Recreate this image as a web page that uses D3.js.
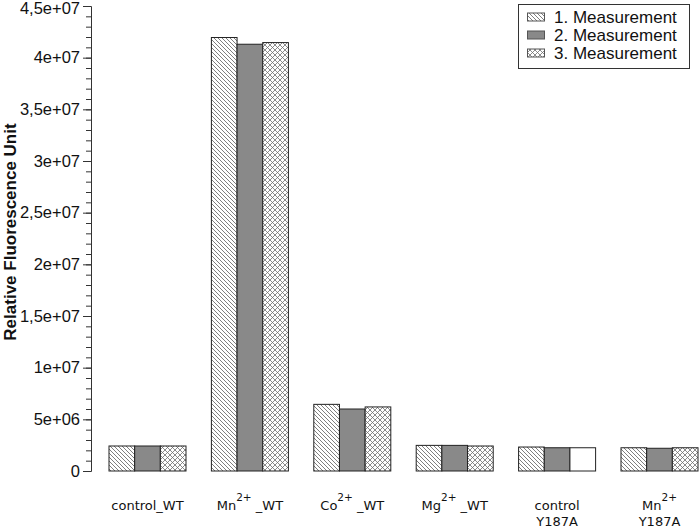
<!DOCTYPE html>
<html>
<head>
<meta charset="utf-8">
<script src="https://cdn.jsdelivr.net/npm/d3@7"></script>
<style>
  html, body { margin: 0; padding: 0; background: #fff; }
  svg { display: block; }
</style>
</head>
<body>
<svg id="chart" width="700" height="528"></svg>
<script>
// ---------- data ----------
const categories = ["control_WT", "Mn2+_WT", "Co2+_WT", "Mg2+_WT", "control Y187A", "Mn2+ Y187A"];
// label parts: [main, superscript, rest] per line
const categoryLabels = [
  [["control_WT", "", ""]],
  [["Mn", "2+", " _WT"]],
  [["Co", "2+", " _WT"]],
  [["Mg", "2+", " _WT"]],
  [["control", "", ""], ["Y187A", "", ""]],
  [["Mn", "2+", ""], ["Y187A", "", ""]]
];
const seriesNames = ["1. Measurement", "2. Measurement", "3. Measurement"];
const measurement1 = [2.42e6, 41.95e6, 6.45e6, 2.48e6, 2.32e6, 2.25e6];
const measurement2 = [2.42e6, 41.3e6, 6.0e6, 2.48e6, 2.25e6, 2.2e6];
const measurement3 = [2.42e6, 41.46e6, 6.2e6, 2.42e6, 2.25e6, 2.25e6];
const yTickValues = [0, 5e6, 1e7, 1.5e7, 2e7, 2.5e7, 3e7, 3.5e7, 4e7, 4.5e7];
const yTickLabels = ["0", "5e+06", "1e+07", "1,5e+07", "2e+07", "2,5e+07", "3e+07", "3,5e+07", "4e+07", "4,5e+07"];
const yMinorStep = 1e6;

// ---------- setup ----------
const svg = d3.select("#chart");
const series = [measurement1, measurement2, measurement3];
const fills = ["url(#diag)", "#898989", "url(#cross)"];
const plainCells = [[4, 2]]; // bar drawn white without pattern

const defs = svg.append("defs");
const diag = defs.append("pattern").attr("id", "diag")
  .attr("patternUnits", "userSpaceOnUse").attr("width", 4).attr("height", 4);
diag.append("rect").attr("width", 4).attr("height", 4).attr("fill", "#fff");
diag.append("path").attr("d", "M-1,-1 L5,5 M-1,3 L1,5 M3,-1 L5,1")
  .attr("stroke", "#5e5e5e").attr("stroke-width", 0.8);

const cross = defs.append("pattern").attr("id", "cross")
  .attr("patternUnits", "userSpaceOnUse").attr("width", 5).attr("height", 5);
cross.append("rect").attr("width", 5).attr("height", 5).attr("fill", "#fff");
cross.append("path").attr("d", "M0,0 L5,5 M5,0 L0,5")
  .attr("stroke", "#6e6e6e").attr("stroke-width", 0.8);

const y = d3.scaleLinear().domain([0, 4.5e7]).range([471, 6]);
const x = d3.scaleBand().domain(categories).range([96.3, 710.7])
  .paddingInner(0.248).paddingOuter(0.124);
const xs = d3.scaleBand().domain(d3.range(series.length)).range([0, x.bandwidth()]);

// ---------- bars ----------
const g = svg.append("g");
categories.forEach((c, i) => {
  series.forEach((s, k) => {
    const plain = plainCells.some(p => p[0] === i && p[1] === k);
    g.append("rect")
      .attr("x", x(c) + xs(k))
      .attr("y", y(s[i]))
      .attr("width", xs.bandwidth())
      .attr("height", y(0) - y(s[i]))
      .attr("fill", plain ? "#fff" : fills[k])
      .attr("stroke", "#222")
      .attr("stroke-width", 1);
  });
});

// ---------- y axis ----------
const fontSans = "'Liberation Sans', Arial, Helvetica, sans-serif";
svg.append("g").attr("transform", "translate(91,0)")
  .call(d3.axisLeft(y).tickValues(d3.range(0, 4.5e7 + 1, yMinorStep)).tickSize(5).tickFormat("").tickSizeOuter(0))
  .call(a => a.select(".domain").attr("stroke", "#333"))
  .call(a => a.selectAll(".tick line").attr("stroke", "#333"));
svg.append("g").attr("transform", "translate(91,0)")
  .call(d3.axisLeft(y).tickValues(yTickValues).tickSize(8).tickPadding(3).tickSizeOuter(0)
    .tickFormat((d, i) => yTickLabels[i]))
  .call(a => a.select(".domain").attr("stroke", "#333"))
  .call(a => a.selectAll(".tick line").attr("stroke", "#333"))
  .call(a => a.selectAll(".tick text").attr("font-family", fontSans).attr("font-size", 16.5).attr("fill", "#111"))
  .call(a => a.selectAll(".tick text").filter((d, i) => i === yTickValues.length - 1).attr("y", 2));

// y title
svg.append("text")
  .attr("transform", "translate(16,232) rotate(-90)")
  .attr("text-anchor", "middle")
  .attr("font-family", fontSans).attr("font-weight", "bold").attr("font-size", 17)
  .attr("fill", "#111")
  .text("Relative Fluorescence Unit");

// ---------- x labels ----------
const fontX = "'DejaVu Sans', sans-serif";
categories.forEach((c, i) => {
  const cx = x(c) + x.bandwidth() / 2;
  categoryLabels[i].forEach((parts, li) => {
    const t = svg.append("text")
      .attr("x", cx).attr("y", 510 + li * 15.5)
      .attr("text-anchor", "middle")
      .attr("font-family", fontX).attr("font-size", 13).attr("fill", "#111");
    t.append("tspan").text(parts[0]);
    if (parts[1]) t.append("tspan").attr("dy", -9).attr("font-size", 10.5).text(parts[1]);
    if (parts[2]) t.append("tspan").attr("dy", 9).attr("font-size", 13).text(parts[2]);
  });
});

// ---------- legend ----------
const lg = svg.append("g");
lg.append("rect").attr("x", 518.5).attr("y", 4.5).attr("width", 171).attr("height", 64)
  .attr("fill", "#fff").attr("stroke", "#333").attr("stroke-width", 1);
seriesNames.forEach((n, k) => {
  const cy = 17 + k * 18;
  lg.append("rect").attr("x", 527.5).attr("y", cy - 4).attr("width", 17).attr("height", 8)
    .attr("fill", fills[k]).attr("stroke", "#555").attr("stroke-width", 1);
  lg.append("text").attr("x", 554).attr("y", cy + 6)
    .attr("font-family", fontSans).attr("font-size", 17).attr("fill", "#111")
    .text(n);
});
</script>
</body>
</html>
